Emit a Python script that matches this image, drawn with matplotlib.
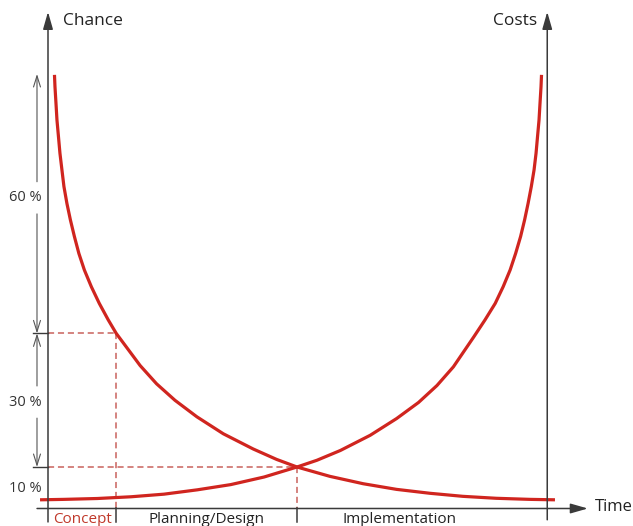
import matplotlib
matplotlib.use("Agg")
import matplotlib.pyplot as plt

# Curves: time (0 = start, 1 = end of project), value in %
chance_t = [0.013, 0.014, 0.016, 0.018, 0.021, 0.024, 0.028, 0.032, 0.038,
            0.045, 0.053, 0.062, 0.073, 0.087, 0.103, 0.121, 0.137,
            0.185, 0.218, 0.255, 0.299, 0.352, 0.412, 0.459, 0.500, 0.566,
            0.633, 0.700, 0.767, 0.833, 0.900, 0.968, 1.018]
chance_p = [99.8, 97.1, 93.3, 89.4, 85.6, 81.75, 77.9, 74.1, 70.2,
            66.4, 62.6, 58.7, 54.9, 51.05, 47.2, 43.4, 40.3,
            32.9, 28.7, 24.9, 21.1, 17.2, 13.7, 11.3, 9.55, 7.4,
            5.7, 4.4, 3.5, 2.8, 2.35, 2.1, 2.0]

costs_t = [-0.016, 0.032, 0.099, 0.167, 0.233, 0.300, 0.367, 0.434, 0.500,
           0.540, 0.587, 0.647, 0.700, 0.744, 0.781, 0.814, 0.855, 0.8775,
           0.898, 0.914, 0.928, 0.939, 0.949, 0.957, 0.964, 0.9705, 0.976,
           0.980, 0.983, 0.986, 0.988, 0.990, 0.991]
costs_p = [2.0, 2.1, 2.3, 2.7, 3.3, 4.3, 5.5, 7.25, 9.55,
           11.1, 13.35, 16.85, 20.7, 24.4, 28.3, 32.6, 39.5, 43.4,
           47.2, 51.05, 54.9, 58.7, 62.6, 66.4, 70.2, 74.1, 77.9,
           81.75, 85.6, 89.4, 93.3, 97.1, 99.8]

# Phases along the time axis
phase_bounds = [0.0, 0.137, 0.5, 1.0]
phase_names = ["Concept", "Planning/Design", "Implementation"]
phase_label_t = [0.0685, 0.318, 0.705]

# Levels marked on the left with dimension arrows
levels = [100, 40.3, 9.55, 0]
level_labels = ["60 %", "30 %", "10 %"]
level_label_p = [71.5, 24.5, 4.7]

RED = "#d0251f"
DASH = "#c9625c"
AX = "#3a3a3a"
DIM = "#555555"

fig = plt.figure(figsize=(6.33, 5.26), dpi=100)
ax = fig.add_axes([0, 0, 1, 1])
ax.set_xlim(-48 / 498, 585 / 498)
ax.set_ylim(-4.028, 117.03)
ax.axis("off")

fam = ["Open Sans", "DejaVu Sans"]
arrow_kw = dict(arrowstyle="-|>,head_length=1.05,head_width=0.3", lw=1.1,
                color=AX, shrinkA=0, shrinkB=0)
bot = -3.1

# axes with arrows
ax.annotate("", xy=(0, 114.3), xytext=(0, bot), arrowprops=arrow_kw)
ax.annotate("", xy=(1.0025, 114.3), xytext=(1.0025, -2.6), arrowprops=arrow_kw)
ax.annotate("", xy=(1.084, 0), xytext=(-0.022, 0), arrowprops=arrow_kw)

ax.text(0.031, 112.2, "Chance", fontsize=12.5, family=fam, color="#222",
        ha="left", va="center")
ax.text(0.983, 112.2, "Costs", fontsize=12.5, family=fam, color="#222",
        ha="right", va="center")
ax.text(1.099, 0.4, "Time", fontsize=12, family=fam, color="#222",
        ha="left", va="center")

# dashed guides
for t, p in [(phase_bounds[1], levels[1]), (phase_bounds[2], levels[2])]:
    ax.plot([0, t], [p, p], color=DASH, lw=1.1, dashes=(4, 2.5))
    ax.plot([t, t], [p, 0], color=DASH, lw=1.1, dashes=(4, 2.5))
    ax.plot([t, t], [0, bot], color=AX, lw=1.1)

# curves
ax.plot(chance_t, chance_p, color=RED, lw=2.3, solid_capstyle="butt",
        solid_joinstyle="round")
ax.plot(costs_t, costs_p, color=RED, lw=2.3, solid_capstyle="butt",
        solid_joinstyle="round")

# phase labels
for i, (name, t) in enumerate(zip(phase_names, phase_label_t)):
    ax.text(t, -2.5, name, fontsize=11, family=fam, ha="center", va="center",
            color="#c0392b" if i == 0 else "#222")

# dimension arrows on the left
xd = -0.0221
dim_kw = dict(arrowstyle="->,head_length=0.8,head_width=0.25", lw=0.8,
              color=DIM, shrinkA=0, shrinkB=0)
for hi, lo, lab, lp in zip(levels[:-1], levels[1:], level_labels, level_label_p):
    ax.text(-0.0455, lp, lab, fontsize=10.5, family=fam, color="#333",
            ha="center", va="center")
    if hi - lo < 20:
        continue
    gap = 3.7
    ax.annotate("", xy=(xd, hi), xytext=(xd, lp + gap), arrowprops=dim_kw)
    ax.annotate("", xy=(xd, lo), xytext=(xd, lp - gap), arrowprops=dim_kw)
for p in levels[1:3]:
    ax.plot([-0.030, 0], [p, p], color=AX, lw=1.0)

fig.savefig("out.png", dpi=100, facecolor="white")
